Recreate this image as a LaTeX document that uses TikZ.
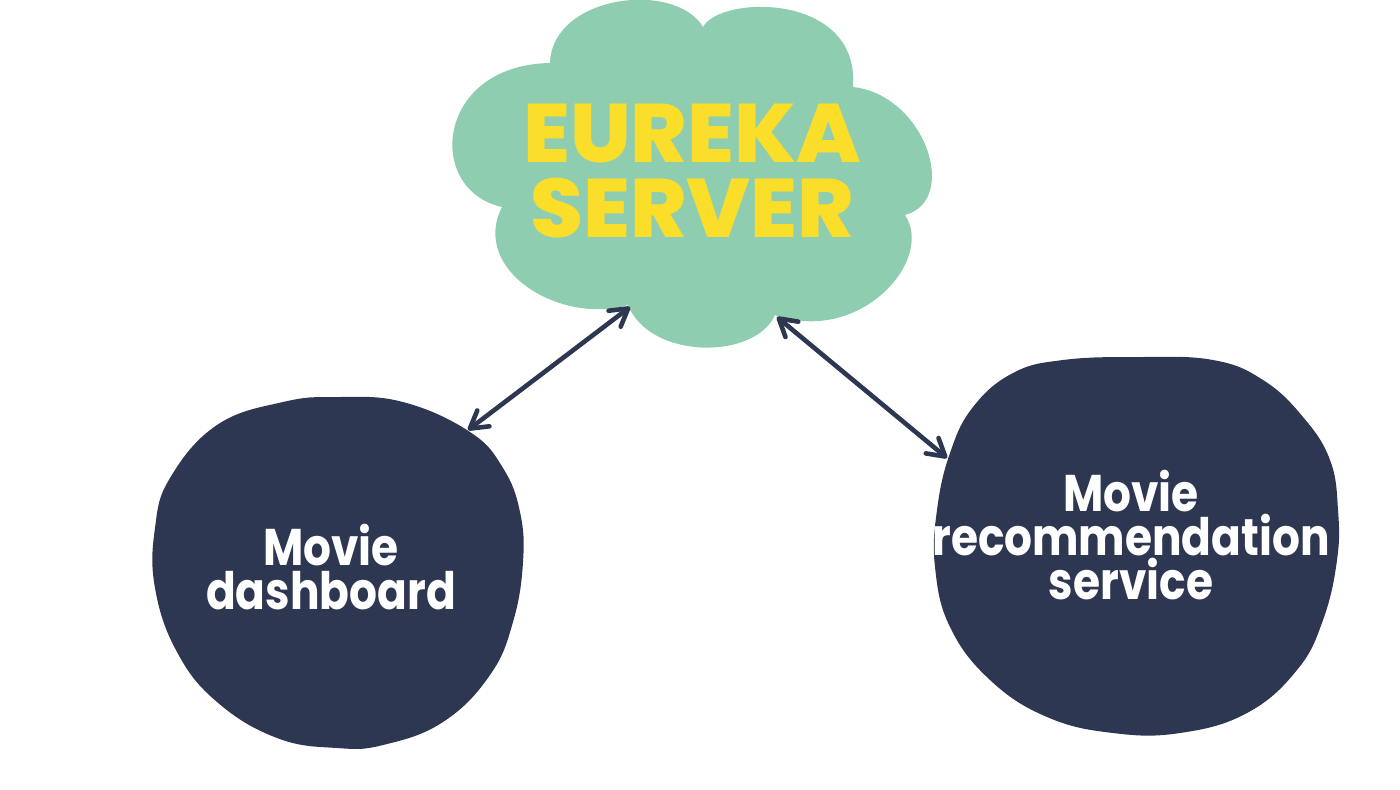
\documentclass[tikz,border=0pt]{standalone}
\usepackage{fontspec}
\setmainfont{Poppins}
\newfontfamily\heavy{Poppins ExtraBold}[FakeStretch=1.03]
\newfontfamily\lblfont{Poppins Bold}[FakeStretch=0.85]
\usetikzlibrary{arrows.meta}
\definecolor{navy}{HTML}{2E3752}
\definecolor{mint}{HTML}{8FCDB0}
\definecolor{sun}{HTML}{FADE2A}
\tikzset{
  cloudfill/.style={fill=mint},
  blobfill/.style={fill=navy},
  lbl/.style={text=white, font=\lblfont\fontsize{25.8}{22}\selectfont, align=center, inner sep=0pt},
  titlelbl/.style={text=sun, font=\heavy\fontsize{41.5}{37.5}\selectfont, align=center, inner sep=0pt},
  barb/.tip={Straight Barb[length=8.5pt,width=10pt,line cap=round,line join=round]},
  link/.style={draw=navy, line width=2.3pt, line cap=round, barb-barb}
}
\begin{document}
\begin{tikzpicture}[x=0.5pt,y=-0.5pt]
\useasboundingbox (0,0) rectangle (1400,789);
% cloud
\fill[cloudfill] (550,63) .. controls (552,-5) and (675,-20) .. (703,27)
 .. controls (720,-5) and (860,-8) .. (853,87)
 .. controls (925,95) and (960,200) .. (905,215)
 .. controls (935,260) and (860,345) .. (775,315)
 .. controls (755,360) and (650,360) .. (628,305)
 .. controls (560,325) and (470,270) .. (502,207)
 .. controls (425,190) and (435,65) .. (550,63) -- cycle;
% left blob
\fill[blobfill] plot[smooth cycle, tension=0.7] coordinates {
 (217,425) (283,402) (337,397) (403,402) (470,432) (503,468) (520,512)
 (523,562) (513,622) (490,675) (443,722) (383,745) (337,748) (277,738)
 (217,702) (177,652) (155,588) (155,528) (170,478)};
% right blob
\fill[blobfill] plot[smooth cycle, tension=0.7] coordinates {
 (1013,373) (1063,360) (1138,357) (1213,360) (1263,380) (1303,417) (1330,460)
 (1338,510) (1337,560) (1323,620) (1297,670) (1247,713) (1180,733)
 (1113,733) (1047,717) (990,680) (950,627) (935,567) (937,510)
 (950,453) (973,407)};
% texts
\node[titlelbl] (eureka) at (692,171) {EUREKA\\SERVER};
\node[lbl] (dash) at (331,567) {Movie\\dashboard};
\node[lbl] (reco) at (1131,535) {Movie\\recommendation\\service};
% connector ends
\coordinate (cloudL) at (630,307);
\coordinate (dashT) at (468,430);
\coordinate (cloudR) at (777,317);
\coordinate (recoT) at (947,458);
\draw[link] (dashT) -- (cloudL);
\draw[link] (cloudR) -- (recoT);
\end{tikzpicture}
\end{document}
